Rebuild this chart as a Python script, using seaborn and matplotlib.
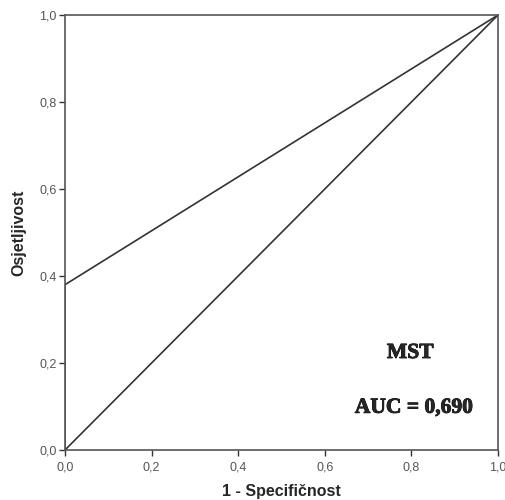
import numpy as np
import pandas as pd
import matplotlib
matplotlib.use('Agg')
import matplotlib.pyplot as plt
import matplotlib.patheffects as pe
import seaborn as sns

# podaci ROC krivulje
fpr = [0.0, 0.0, 1.0]
tpr = [0.0, 0.38, 1.0]
ref_x = [0.0, 1.0]
ref_y = [0.0, 1.0]
ticks = [0.0, 0.2, 0.4, 0.6, 0.8, 1.0]
tick_labels = ['0,0', '0,2', '0,4', '0,6', '0,8', '1,0']
naslov = 'MST'
auc_text = 'AUC = 0,690'

sns.set_style('white')
plt.rcParams['font.family'] = ['Liberation Sans', 'DejaVu Sans']

roc = pd.DataFrame({'fpr': fpr, 'tpr': tpr})
ref = pd.DataFrame({'x': ref_x, 'y': ref_y})

fig = plt.figure(figsize=(5.06, 5.0), dpi=100)
ax = fig.add_axes([65 / 506, 50 / 500, 433 / 506, 435 / 500])

sns.lineplot(data=roc, x='fpr', y='tpr', sort=False, estimator=None,
             color='#333333', linewidth=1.2, ax=ax)
sns.lineplot(data=ref, x='x', y='y', sort=False, estimator=None,
             color='#333333', linewidth=1.2, ax=ax)

ax.set_xlim(0, 1)
ax.set_ylim(0, 1)
ax.set_xticks(ticks)
ax.set_xticklabels(tick_labels)
ax.set_yticks(ticks)
ax.set_yticklabels(tick_labels)
ax.tick_params(axis='both', direction='out', length=4, width=1, colors='#333333',
               labelcolor='#555555', labelsize=9, pad=2, bottom=True, left=True)
ax.tick_params(axis='x', pad=4)
for s in ax.spines.values():
    s.set_color('#555555')
    s.set_linewidth(1.2)

ax.set_xlabel('1 - Specifičnost', fontsize=11.5, fontweight='bold', labelpad=8)
ax.set_ylabel('Osjetljivost', fontsize=11.5, fontweight='bold', labelpad=9)

# Liberation Serif nema bold varijantu -> podebljanje preko obruba
debelo = [pe.withStroke(linewidth=0.6, foreground='black')]
ax.text(0.797, 0.223, naslov, ha='center', va='center', fontsize=15.5,
        family='Liberation Serif', fontweight='bold', path_effects=debelo)
ax.text(0.806, 0.097, auc_text, ha='center', va='center', fontsize=15.5,
        family='Liberation Serif', fontweight='bold', path_effects=debelo)

fig.savefig('out.png', dpi=100)
